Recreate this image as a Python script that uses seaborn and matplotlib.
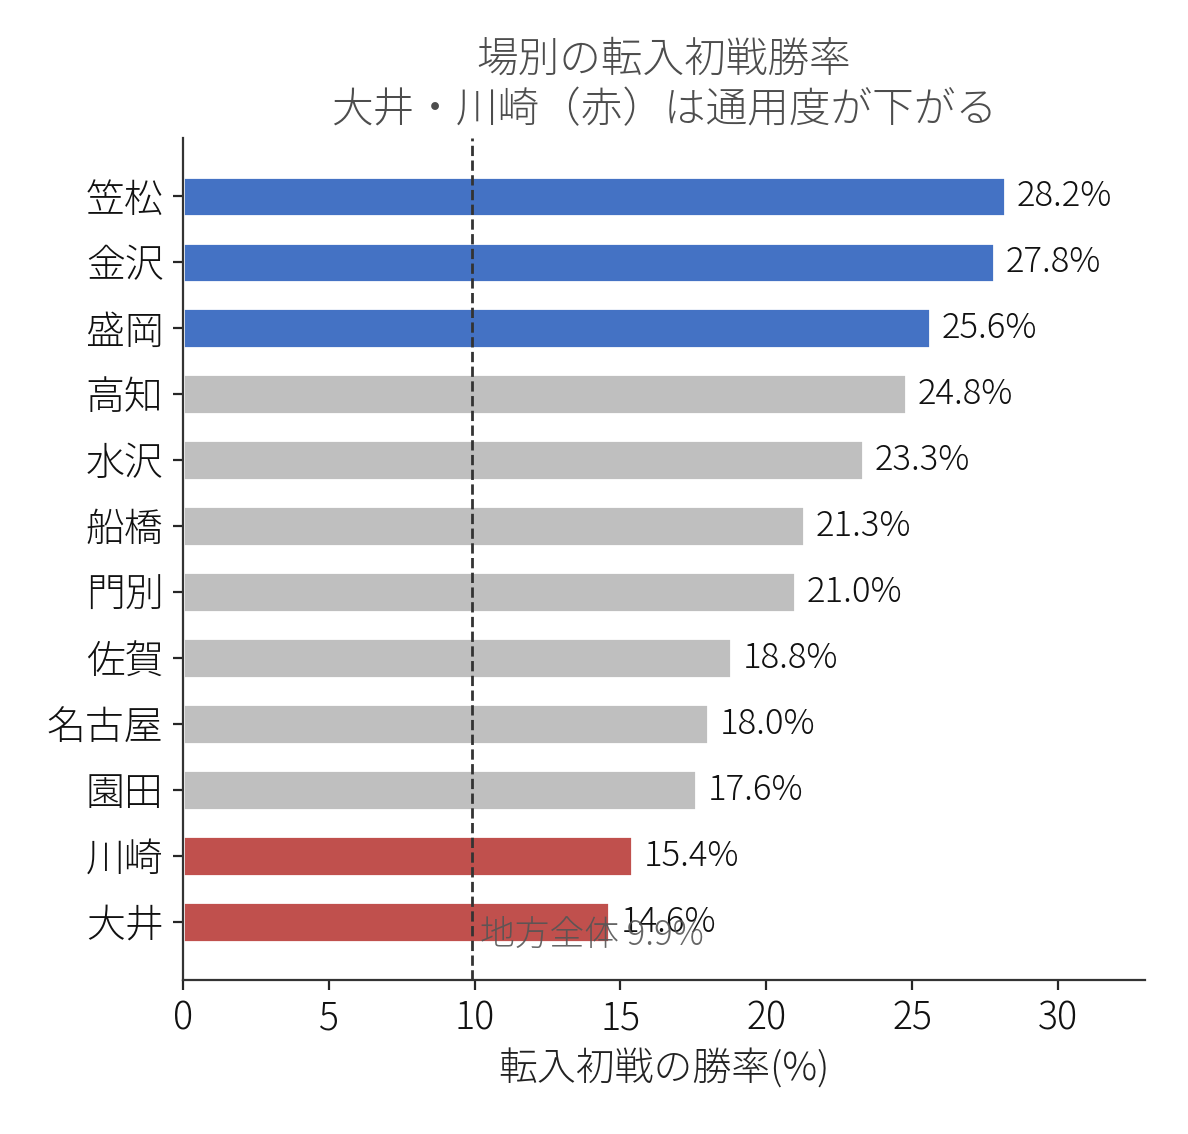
import seaborn as sns
import matplotlib.pyplot as plt
import pandas as pd

venues = ['笠松', '金沢', '盛岡', '高知', '水沢', '船橋', '門別', '佐賀', '名古屋', '園田', '川崎', '大井']
win_rate = [28.2, 27.8, 25.6, 24.8, 23.3, 21.3, 21.0, 18.8, 18.0, 17.6, 15.4, 14.6]
group = ['top', 'top', 'top', 'mid', 'mid', 'mid', 'mid', 'mid', 'mid', 'mid', 'low', 'low']
overall = 9.9

sns.set_style("ticks")
plt.rcParams['font.family'] = ['Noto Sans CJK JP', 'DejaVu Sans']
plt.rcParams['font.weight'] = 'light'
plt.rcParams['axes.titleweight'] = 'light'
plt.rcParams['axes.labelweight'] = 'light'

col = {'top': '#4472C4', 'mid': '#BFBFBF', 'low': '#C0504D'}
df = pd.DataFrame({'venue': venues, 'rate': win_rate, 'group': group})

fig = plt.figure(figsize=(5.94, 5.67), dpi=200)
ax = fig.add_axes([0.154, 0.136, 0.81, 0.742])
sns.barplot(data=df, x='rate', y='venue', hue='group', palette=col, dodge=False,
            width=0.6, legend=False, ax=ax, orient='h', saturation=1)

for i, v in enumerate(win_rate):
    ax.text(v + 0.4, i, f'{v:.1f}%', va='center', ha='left', fontsize=12.5, color='#111111')

ax.axvline(overall, color='#333333', linestyle='--', lw=1.0)
ax.text(overall + 0.3, len(venues) - 0.8, f'地方全体 {overall}%', color='#555555',
        va='center', ha='left', fontsize=12.5, alpha=0.9)

ax.set_xlim(0, max(win_rate) * 1.17)
ax.set_ylim(len(venues) - 1 + 0.88, -0.88)
ax.set_xlabel('転入初戦の勝率(%)', fontsize=14, color='#222222')
ax.set_ylabel('')
ax.tick_params(axis='y', labelsize=14, labelcolor='#111111')
ax.tick_params(axis='x', labelsize=13.5, labelcolor='#111111')
ax.set_title('場別の転入初戦勝率\n大井・川崎（赤）は通用度が下がる', fontsize=15, color='#4d4d4d')
sns.despine(ax=ax)
for s in ['left', 'bottom']:
    ax.spines[s].set_color('#333333')

fig.savefig('out.png', dpi=200)
